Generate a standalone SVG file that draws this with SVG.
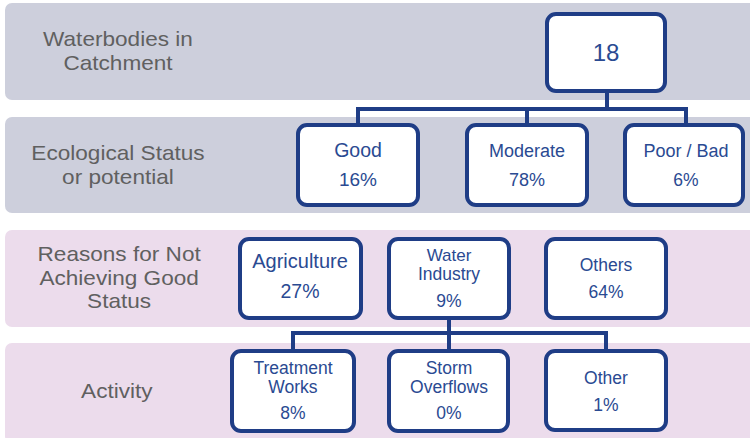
<svg xmlns="http://www.w3.org/2000/svg" width="750" height="438" viewBox="0 0 750 438">
<style>
.band1{fill:#cdcfdc}
.band2{fill:#ecdcec}
.lbl{font-family:"Liberation Sans",Arial,sans-serif;font-size:20px;fill:#606060;text-anchor:middle}
.box{fill:#ffffff;stroke:#1f3d86;stroke-width:4}
.t{font-family:"Liberation Sans",Arial,sans-serif;fill:#2a4a92;text-anchor:middle}
.conn{fill:none;stroke:#1f3d86;stroke-width:4;stroke-linejoin:miter}
</style>
<rect width="750" height="438" fill="#ffffff"/>
<g id="bands">
<rect class="band1" x="5" y="3" width="760" height="97" rx="7"/>
<rect class="band1" x="5" y="117" width="760" height="96" rx="7"/>
<rect class="band2" x="5" y="230" width="760" height="97" rx="7"/>
<rect class="band2" x="5" y="343" width="760" height="100" rx="7"/>
</g>
<g id="labels" transform="translate(118 0) scale(1.13 1) translate(-118 0)">
<text class="lbl" x="118" y="46">Waterbodies in</text>
<text class="lbl" x="118" y="70">Catchment</text>
<text class="lbl" x="118" y="160">Ecological Status</text>
<text class="lbl" x="118" y="184">or potential</text>
<text class="lbl" x="119" y="261">Reasons for Not</text>
<text class="lbl" x="119" y="285">Achieving Good</text>
<text class="lbl" x="119" y="308">Status</text>
<text class="lbl" x="117" y="398">Activity</text>
</g>
<g id="connectors">
<path class="conn" d="M607 91 V109 M358 125 V109 H686 V125 M527 109 V125"/>
<path class="conn" d="M449 318 V333 M293 351 V333 H606 V351 M449 333 V351"/>
</g>
<g id="n18"><rect class="box" x="547" y="14" width="118" height="77" rx="9"/><text class="t" x="606" y="61" font-size="24">18</text></g>
<g id="good"><rect class="box" x="298" y="125" width="120" height="80" rx="9"/><text class="t" x="358" y="157" font-size="19.5">Good</text><text class="t" x="358" y="186" font-size="19">16%</text></g>
<g id="moderate"><rect class="box" x="467" y="125" width="120" height="80" rx="9"/><text class="t" x="527" y="157" font-size="18">Moderate</text><text class="t" x="527" y="186" font-size="18">78%</text></g>
<g id="poor"><rect class="box" x="625" y="125" width="118" height="80" rx="9"/><text class="t" x="686" y="157" font-size="18">Poor / Bad</text><text class="t" x="686" y="186" font-size="17.5">6%</text></g>
<g id="agriculture"><rect class="box" x="240" y="239" width="121" height="79" rx="9"/><text class="t" x="300" y="268" font-size="20">Agriculture</text><text class="t" x="300" y="298" font-size="19.5">27%</text></g>
<g id="water"><rect class="box" x="389" y="239" width="120" height="79" rx="9"/><text class="t" x="449" y="261" font-size="17">Water</text><text class="t" x="449" y="280" font-size="17.5">Industry</text><text class="t" x="449" y="307" font-size="17.5">9%</text></g>
<g id="others"><rect class="box" x="546" y="239" width="120" height="79" rx="9"/><text class="t" x="606" y="271" font-size="17.5">Others</text><text class="t" x="606" y="298" font-size="17.5">64%</text></g>
<g id="treatment"><rect class="box" x="232" y="351" width="122" height="80" rx="9"/><text class="t" x="293" y="374" font-size="17.5">Treatment</text><text class="t" x="293" y="393" font-size="17.5">Works</text><text class="t" x="293" y="419" font-size="17.5">8%</text></g>
<g id="storm"><rect class="box" x="389" y="351" width="119" height="80" rx="9"/><text class="t" x="449" y="374" font-size="17.5">Storm</text><text class="t" x="449" y="393" font-size="17.5">Overflows</text><text class="t" x="449" y="419" font-size="17.5">0%</text></g>
<g id="other"><rect class="box" x="546" y="351" width="120" height="79" rx="9"/><text class="t" x="606" y="384" font-size="17.5">Other</text><text class="t" x="606" y="411" font-size="17.5">1%</text></g>
</svg>
